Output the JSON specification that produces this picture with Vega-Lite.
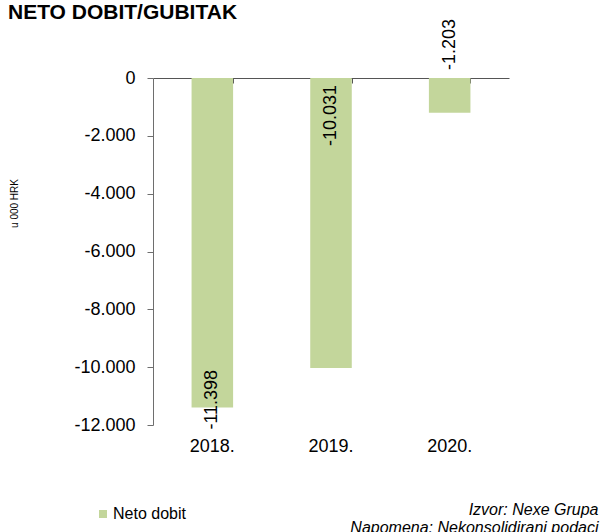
{
  "$schema": "https://vega.github.io/schema/vega-lite/v6.json",
  "width": 356,
  "height": 347,
  "autosize": {"type": "none"},
  "padding": {"left": 153, "top": 78, "right": 96, "bottom": 107},
  "title": {
    "text": "NETO DOBIT/GUBITAK",
    "anchor": "start",
    "frame": "group",
    "fontSize": 21,
    "fontWeight": "bold",
    "color": "#000000",
    "dx": -145,
    "dy": 4,
    "offset": 0
  },
  "data": {
    "values": [
      {"year": "2018.", "value": -11398, "series": "Neto dobit"},
      {"year": "2019.", "value": -10031, "series": "Neto dobit"},
      {"year": "2020.", "value": -1203, "series": "Neto dobit"}
    ]
  },
  "resolve": {"axis": {"x": "independent"}},
  "layer": [
    {
      "mark": {"type": "bar"},
      "encoding": {
        "x": {
          "field": "year",
          "type": "nominal",
          "scale": {"paddingInner": 0.65, "paddingOuter": 0.325},
          "axis": {
            "orient": "bottom",
            "domain": false,
            "ticks": false,
            "labelAngle": 0,
            "labelFontSize": 18,
            "labelPadding": 12,
            "labelColor": "#000000",
            "title": ["Izvor: Nexe Grupa", "Napomena: Nekonsolidirani podaci"],
            "titleFontSize": 16,
            "titleFontStyle": "italic",
            "titleFontWeight": "normal",
            "titleColor": "#000000",
            "titleAlign": "right",
            "titleAnchor": "end",
            "titleBaseline": "top",
            "titleX": 445,
            "titleY": 76,
            "titleLineHeight": 18
          }
        },
        "y": {
          "field": "value",
          "type": "quantitative",
          "scale": {"domain": [-12000, 0], "nice": false},
          "axis": {
            "values": [0, -2000, -4000, -6000, -8000, -10000, -12000],
            "format": ",d",
            "grid": false,
            "domainColor": "#6e6e6e",
            "tickColor": "#6e6e6e",
            "tickSize": 6,
            "labelFontSize": 18,
            "labelPadding": 12,
            "labelColor": "#000000",
            "title": "u 000 HRK",
            "titleFontSize": 10,
            "titleFontWeight": "normal",
            "titleColor": "#000000",
            "titleX": -134,
            "titleY": 125
          }
        },
        "color": {
          "field": "series",
          "type": "nominal",
          "scale": {"range": ["#c3d69b"]},
          "legend": {
            "title": null,
            "orient": "none",
            "legendX": -58,
            "legendY": 428,
            "symbolType": "square",
            "symbolSize": 64,
            "symbolStrokeWidth": 0,
            "labelFontSize": 16,
            "labelColor": "#000000",
            "labelOffset": 2
          }
        }
      }
    },
    {
      "transform": [{"filter": "datum.year === '2018.'"}],
      "mark": {"type": "text", "angle": 270, "align": "left", "baseline": "middle", "dx": -22, "fontSize": 18, "color": "#000000"},
      "encoding": {
        "x": {
          "field": "year",
          "type": "nominal",
          "axis": {
            "orient": "top",
            "labels": false,
            "title": null,
            "domain": true,
            "domainColor": "#555555",
            "ticks": true,
            "tickBand": "extent",
            "tickSize": -5,
            "tickColor": "#555555"
          }
        },
        "y": {"field": "value", "type": "quantitative"},
        "text": {"field": "value", "type": "quantitative", "format": ",d"}
      }
    },
    {
      "transform": [{"filter": "datum.year === '2019.'"}],
      "mark": {"type": "text", "angle": 270, "align": "right", "baseline": "middle", "dx": -7, "fontSize": 18, "color": "#000000"},
      "encoding": {
        "x": {"field": "year", "type": "nominal", "axis": null},
        "y": {"datum": 0, "type": "quantitative"},
        "text": {"field": "value", "type": "quantitative", "format": ",d"}
      }
    },
    {
      "transform": [{"filter": "datum.year === '2020.'"}],
      "mark": {"type": "text", "angle": 270, "align": "left", "baseline": "middle", "dx": 8, "fontSize": 18, "color": "#000000"},
      "encoding": {
        "x": {"field": "year", "type": "nominal", "axis": null},
        "y": {"datum": 0, "type": "quantitative"},
        "text": {"field": "value", "type": "quantitative", "format": ",d"}
      }
    }
  ],
  "config": {
    "font": "Liberation Sans",
    "view": {"stroke": null},
    "locale": {
      "number": {"decimal": ",", "thousands": ".", "grouping": [3], "currency": ["", ""], "minus": "-"}
    }
  }
}
